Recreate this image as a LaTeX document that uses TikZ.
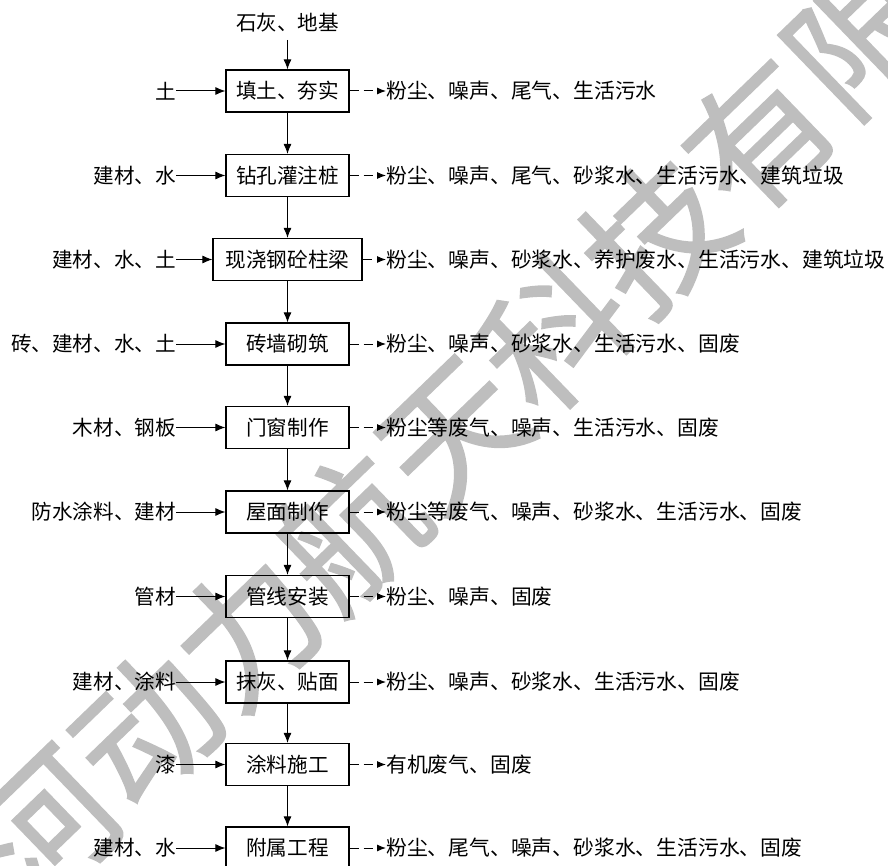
\documentclass[tikz,border=0pt]{standalone}
\usepackage{fontspec}
\newfontfamily\cjk{Noto Sans CJK SC}
\newfontfamily\wmfont[FakeBold=1.2]{Noto Sans CJK SC}
\usetikzlibrary{arrows.meta}
\definecolor{wmgray}{RGB}{190,190,190}
\tikzset{
  proc/.style={draw, line width=1.2pt, minimum height=42pt, inner sep=0pt,
    font=\cjk\fontsize{20.6}{24}\selectfont},
  lab/.style={inner sep=0pt, font=\cjk\fontsize{20.6}{24}\selectfont},
  outlab/.style={inner sep=0pt, font=\cjk\fontsize{20.8}{24}\selectfont},
  inarr/.style={-{Latex[length=10pt,width=8pt]}, line width=1pt},
  outarr/.style={-{Latex[length=9pt,width=7pt]}, line width=1pt, dash pattern=on 9pt off 5pt},
  wmark/.style={text=wmgray, inner sep=0pt, font=\wmfont\fontsize{142}{142}\selectfont}
}
\begin{document}
\begin{tikzpicture}[x=1pt,y=-1pt]
\useasboundingbox (0,0) rectangle (888,866);
% watermark
\node[wmark, rotate=44] (wm) at (452,432) {河动力航天科技有限};
% top input
\node[lab] (top) at (287.5,23) {石灰、地基};
\coordinate (t0) at (287.5,40);
\foreach \i/\y/\w/\l/\b/\r in {
 1/91/123/土/填土、夯实/粉尘、噪声、尾气、生活污水,
 2/175.5/123/建材、水/钻孔灌注桩/粉尘、噪声、尾气、砂浆水、生活污水、建筑垃圾,
 3/259.5/149/建材、水、土/现浇钢砼柱梁/粉尘、噪声、砂浆水、养护废水、生活污水、建筑垃圾,
 4/344/123/砖、建材、水、土/砖墙砌筑/粉尘、噪声、砂浆水、生活污水、固废,
 5/427.5/123/木材、钢板/门窗制作/粉尘等废气、噪声、生活污水、固废,
 6/512/123/防水涂料、建材/屋面制作/粉尘等废气、噪声、砂浆水、生活污水、固废,
 7/596.5/123/管材/管线安装/粉尘、噪声、固废,
 8/682/123/建材、涂料/抹灰、贴面/粉尘、噪声、砂浆水、生活污水、固废,
 9/764.5/123/漆/涂料施工/有机废气、固废,
 10/848/123/建材、水/附属工程/粉尘、尾气、噪声、砂浆水、生活污水、固废}{
  \node[proc, minimum width=\w pt] (b\i) at (287.5,\y) {\b};
  \node[lab, anchor=east] (l\i) at (176,\y) {\l};
  \node[outlab, anchor=west] (r\i) at (386,\y) {\r};
  \draw[inarr] (l\i) -- (b\i);
  \draw[outarr] (b\i) -- (r\i);
}
\draw[inarr] (t0) -- (b1);
\foreach \i/\j in {1/2,2/3,3/4,4/5,5/6,6/7,7/8,8/9,9/10}{
  \draw[inarr] (b\i) -- (b\j);
}
\end{tikzpicture}
\end{document}
